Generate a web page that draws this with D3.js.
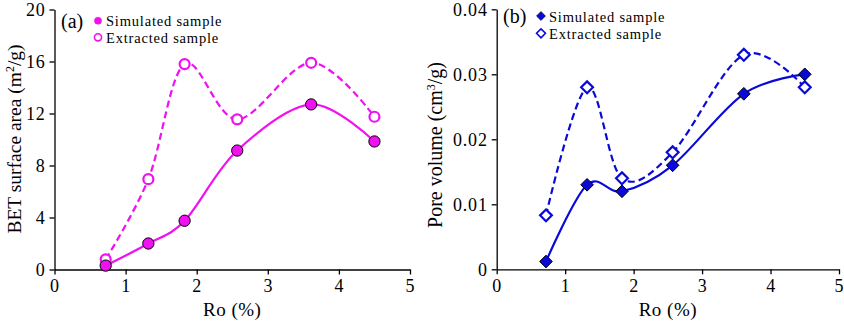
<!DOCTYPE html>
<html>
<head>
<meta charset="utf-8">
<script src="https://cdn.jsdelivr.net/npm/d3@7"></script>
<style>
  body { margin: 0; background: #fff; }
  svg { display: block; font-family: "Liberation Serif", "Times New Roman", serif; }
  svg text { font-family: "Liberation Serif", "Times New Roman", serif; }
  .axis path, .axis line { stroke: #000; stroke-width: 1.3px; }
  .axis text { fill: #000; font-size: 18px; letter-spacing: 0.8px; }
</style>
</head>
<body>
<svg id="chart" width="844" height="322"></svg>
<script>
const ro = [0.72, 1.32, 1.83, 2.57, 3.61, 4.50];
const betSimulated = [0.3, 2.0, 3.75, 9.15, 12.7, 9.85];
const betExtracted = [0.78, 6.95, 15.8, 11.55, 15.9, 11.75];
const poreSimulated = [0.0012, 0.013, 0.012, 0.016, 0.027, 0.030];
const poreExtracted = [0.0083, 0.028, 0.014, 0.018, 0.033, 0.028];
const xTicks = [0, 1, 2, 3, 4, 5];
const betTicks = [0, 4, 8, 12, 16, 20];
const poreTicks = [0, 0.01, 0.02, 0.03, 0.04];
const legendNames = ['Simulated sample', 'Extracted sample'];

const svg = d3.select('#chart');
const magenta = '#f010f0', blue = '#0a0ad8';

// square diamond (rotated square), not the tall d3 diamond
const diamond = {
  draw(ctx, size) {
    const r = Math.sqrt(size / 2);
    ctx.moveTo(0, -r);
    ctx.lineTo(r, 0);
    ctx.lineTo(0, r);
    ctx.lineTo(-r, 0);
    ctx.closePath();
  }
};

function panel(cfg) {
  const g = svg.append('g');
  const x = d3.scaleLinear().domain([0, 5]).range([cfg.left, cfg.right]);
  const y = d3.scaleLinear().domain(cfg.yDomain).range([cfg.bottom, cfg.top]);

  g.append('g')
    .attr('class', 'axis')
    .attr('transform', `translate(0,${cfg.bottom})`)
    .call(d3.axisBottom(x).tickValues(xTicks).tickFormat(d3.format('d')).tickSize(5).tickSizeOuter(0).tickPadding(5));

  g.append('g')
    .attr('class', 'axis')
    .attr('transform', `translate(${cfg.left},0)`)
    .call(d3.axisLeft(y).tickValues(cfg.yTicks).tickFormat(cfg.yFormat).tickSize(5).tickSizeOuter(0).tickPadding(4));

  g.append('text')
    .attr('x', (cfg.left + cfg.right) / 2)
    .attr('y', 316)
    .attr('text-anchor', 'middle')
    .style('font-size', '19px')
    .style('letter-spacing', '0.5px')
    .text('Ro (%)');

  const yl = g.append('text')
    .attr('transform', `translate(${cfg.yLabelX},${cfg.yLabelY}) rotate(-90)`)
    .attr('text-anchor', 'middle')
    .style('font-size', cfg.yLabelSize);
  yl.append('tspan').text(cfg.yLabel[0]);
  yl.append('tspan').attr('dy', -7).style('font-size', '12px').text(cfg.yLabel[1]);
  yl.append('tspan').attr('dy', 7).text(cfg.yLabel[2]);

  const line = d3.line()
    .x((d, i) => x(ro[i]))
    .y(d => y(d))
    .curve(d3.curveCardinal.tension(0));

  g.append('path').datum(cfg.extracted)
    .attr('d', line)
    .attr('fill', 'none')
    .attr('stroke', cfg.color)
    .attr('stroke-width', 2.2)
    .attr('stroke-dasharray', '7,4');
  g.append('path').datum(cfg.simulated)
    .attr('d', line)
    .attr('fill', 'none')
    .attr('stroke', cfg.color)
    .attr('stroke-width', 2.2);

  const sym = d3.symbol().type(cfg.symbol);
  g.selectAll('.ext').data(cfg.extracted).enter()
    .append('path')
      .attr('class', 'ext')
      .attr('transform', (d, i) => `translate(${x(ro[i])},${y(d)})`)
      .attr('d', sym.size(cfg.extSize))
      .attr('fill', '#fff')
      .attr('stroke', cfg.color)
      .attr('stroke-width', 2.2);
  g.selectAll('.sim').data(cfg.simulated).enter()
    .append('path')
      .attr('class', 'sim')
      .attr('transform', (d, i) => `translate(${x(ro[i])},${y(d)})`)
      .attr('d', sym.size(cfg.simSize))
      .attr('fill', cfg.color)
      .attr('stroke', '#000')
      .attr('stroke-width', 1);

  // panel tag + legend
  g.append('text')
    .attr('x', cfg.tagX)
    .attr('y', cfg.legendY[0] + 7)
    .style('font-size', '20px')
    .text(cfg.tag);

  const leg = g.selectAll('.leg').data(legendNames).enter()
    .append('g')
      .attr('transform', (d, i) => `translate(${cfg.legendX},${cfg.legendY[i]})`);
  leg.append('path')
    .attr('d', d3.symbol().type(cfg.symbol).size(cfg.legendSize))
    .attr('fill', (d, i) => i === 0 ? cfg.color : '#fff')
    .attr('stroke', (d, i) => i === 0 && cfg.symbol === diamond ? '#000' : cfg.color)
    .attr('stroke-width', (d, i) => i === 0 ? 0.6 : 1.6);
  leg.append('text')
    .attr('x', 8)
    .attr('y', 5.5)
    .style('font-size', '14.5px')
    .style('letter-spacing', '0.8px')
    .text(d => d);
}

panel({
  left: 54.5, right: 410, top: 9.5, bottom: 269.5,
  yDomain: [0, 20], yTicks: betTicks, yFormat: d3.format('d'),
  yLabel: ['BET surface area (m', '2', '/g)'], yLabelX: 21, yLabelY: 139, yLabelSize: '19.5px',
  simulated: betSimulated, extracted: betExtracted,
  color: magenta, symbol: d3.symbolCircle, simSize: 100, extSize: 78, legendSize: 40,
  tag: '(a)', tagX: 61, legendX: 98, legendY: [20.7, 37.3]
});

panel({
  left: 496.7, right: 839, top: 9.3, bottom: 269.3,
  yDomain: [0, 0.04], yTicks: poreTicks, yFormat: d => d === 0 ? '0' : d3.format('.2f')(d),
  yLabel: ['Pore volume (cm', '3', '/g)'], yLabelX: 442, yLabelY: 145, yLabelSize: '20px',
  simulated: poreSimulated, extracted: poreExtracted,
  color: blue, symbol: diamond, simSize: 80, extSize: 70, legendSize: 40,
  tag: '(b)', tagX: 503, legendX: 541, legendY: [16, 33.3]
});
</script>
</body>
</html>
